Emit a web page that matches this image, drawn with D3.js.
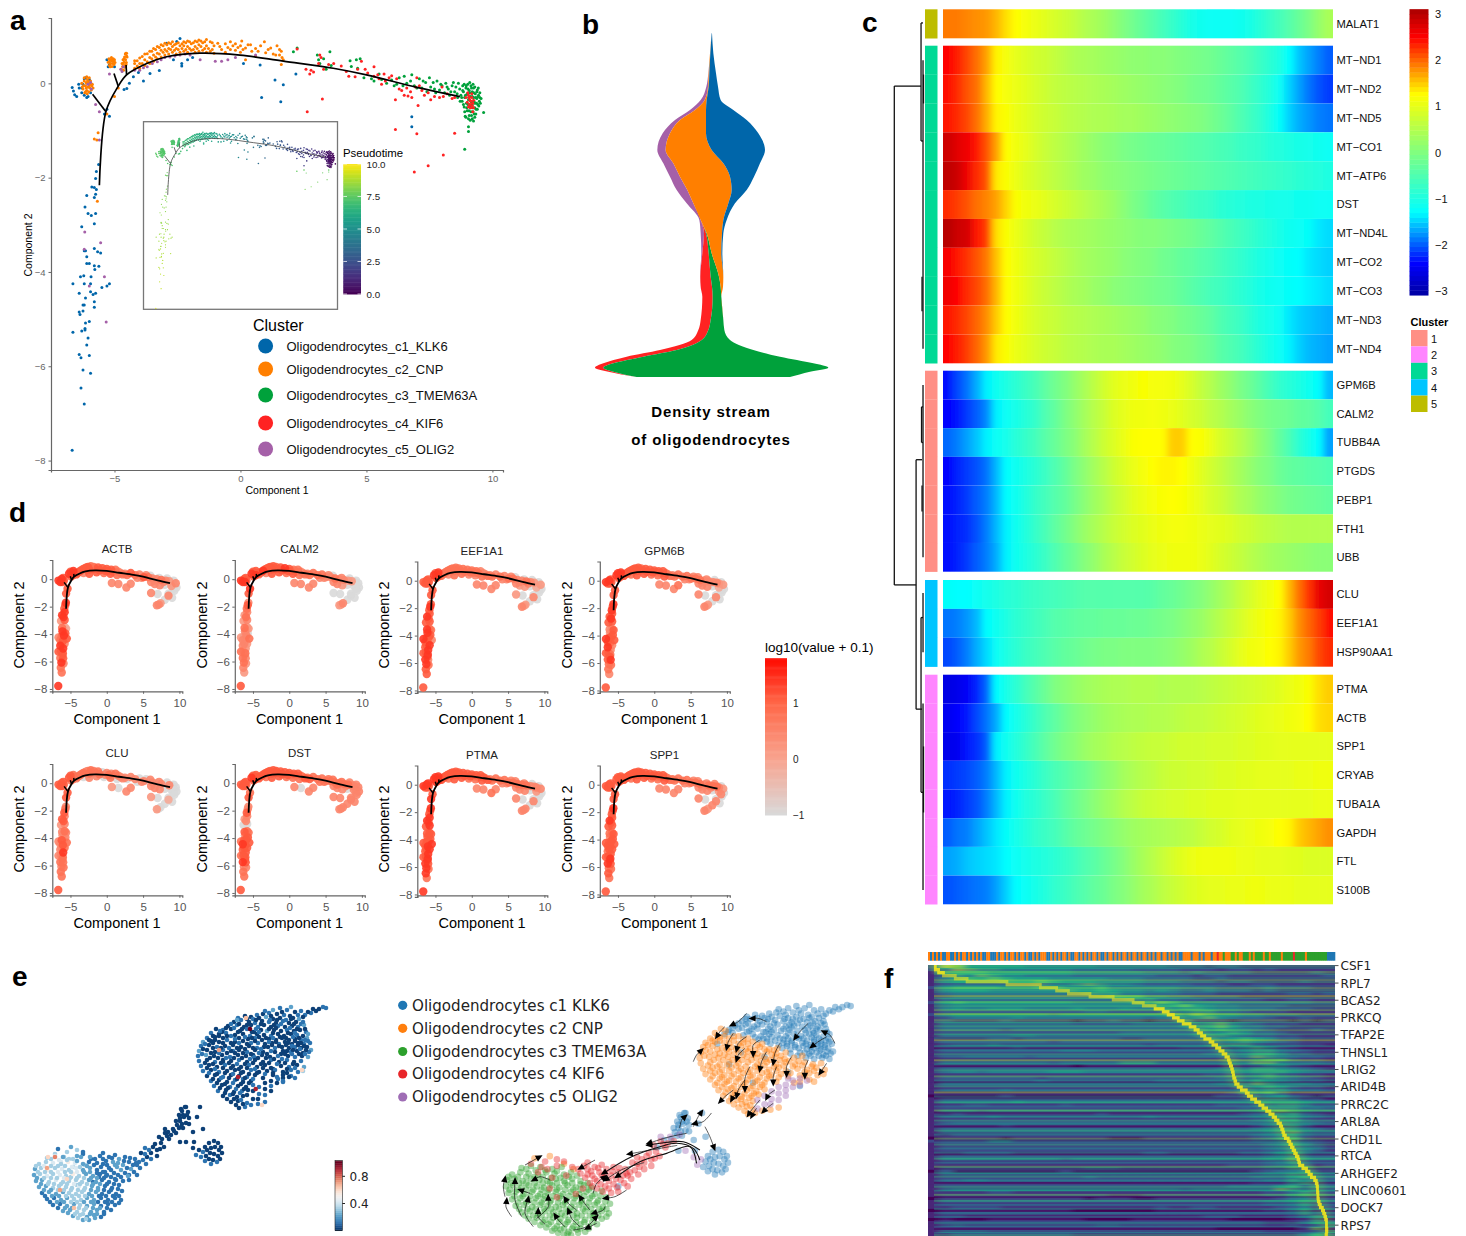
<!DOCTYPE html>
<html lang="en">

<head>
    <meta charset="UTF-8">
    <title>Oligodendrocyte trajectory figure</title>
    <style>
        * {
            margin: 0;
            padding: 0;
        }

        html,
        body {
            overflow: hidden;
            background: #fff;
        }
    </style>
</head>

<body>
    <div id="chart"></div>
    <script src="https://cdn.jsdelivr.net/npm/d3@7/dist/d3.min.js"></script>
    <script>
        // ---------- panel a: cells in component space, one list per cluster
        const clusterNames = ['Oligodendrocytes_c1_KLK6', 'Oligodendrocytes_c2_CNP', 'Oligodendrocytes_c3_TMEM63A', 'Oligodendrocytes_c4_KIF6', 'Oligodendrocytes_c5_OLIG2']
        const clusterColors = ['#0066AA', '#FF7F00', '#00A13B', '#FF2222', '#A560A8']
        const cellsC1 = [[-5.63, -1.72], [-5.72, -1.87], [-5.75, -2.02], [-5.9, -2.2], [-5.8, -2.21], [-5.72, -2.25], [-5.75, -2.35], [-5.8, -2.42], [-6.1, -2.38], [-6.17, -2.62], [-6.05, -2.76], [-5.92, -2.8], [-5.75, -2.76], [-5.8, -2.98], [-6.3, -3.04], [-6.2, -3.55], [-6.15, -3.55], [-5.8, -3.5], [-5.67, -3.57], [-5.55, -3.6], [-6.1, -3.68], [-6.1, -3.82], [-6.0, -3.82], [-5.8, -3.87], [-5.78, -3.95], [-5.62, -3.88], [-6.65, -4.25], [-6.35, -4.1], [-6.22, -4.08], [-6.2, -4.25], [-5.93, -4.1], [-5.95, -4.25], [-6.4, -4.45], [-6.15, -4.55], [-5.95, -4.42], [-5.85, -4.48], [-5.75, -4.45], [-5.5, -4.33], [-5.3, -4.3], [-5.2, -4.25], [-5.8, -4.63], [-5.8, -4.75], [-6.25, -4.7], [-6.2, -4.7], [-6.4, -4.85], [-6.37, -4.9], [-6.25, -4.83], [-6.15, -5.08], [-6.0, -5.05], [-6.65, -5.28], [-6.3, -5.25], [-6.17, -5.2], [-6.17, -5.23], [-6.05, -5.4], [-6.1, -5.55], [-6.4, -5.75], [-6.33, -5.82], [-6.0, -5.77], [-6.25, -6.08], [-5.95, -6.15], [-6.33, -6.46], [-6.2, -6.8], [-6.68, -7.78],
            [-6.68, -0.09], [-6.63, -0.16], [-6.58, -0.24], [-6.5, -0.28], [-6.42, -0.02], [-6.4, -0.1], [-6.3, -0.1], [-6.25, -0.02], [-6.2, 0.1], [-6.15, 0.12], [-6.1, -0.3], [-6.05, -0.28], [-6.2, -0.25], [-6.3, -0.2], [-6.0, 0.08], [-5.95, -0.2], [-5.4, -0.65], [-5.3, -0.55], [-5.2, -0.7],
            [-4.51, -0.11], [-4.62, -0.13], [-4.41, 0], [-4.25, 0.14], [-4.05, 0.23], [-3.85, 0.05], [-3.59, 0.21], [-3.22, 0.27], [-2.66, 0.5], [-2.33, 0.42], [-2.33, 0.37], [-2.1, 0.5], [-1.9, 0.55], [-2.4, 0.95], [-2.53, 0.885], [-2.93, 0.85], [0.12, 0.42], [0.78, 0.39], [1.37, 0.07], [1.7, -0.03], [0.84, -0.3], [1.6, -0.39], [2.2, 0.2], [6.8, -0.71], [6.8, -0.92],
            [-5.3, 0.5], [-5.2, 0.4], [-5.1, 0.48], [-5.0, 0.35], [-5.25, 0.35]]
        const cellsC2 = [[-6.3, 0.0], [-6.25, -0.12], [-6.2, 0.05], [-6.18, -0.2], [-6.15, -0.05], [-6.12, 0.02], [-6.1, -0.15], [-6.08, 0.08], [-6.05, -0.08], [-6.02, -0.18], [-6.0, 0.0], [-5.98, -0.1], [-5.95, 0.05], [-5.92, -0.14], [-5.9, -0.05], [-6.05, 0.04], [-6.12, -0.1], [-5.85, -0.1],
            [-6.22, -0.05], [-6.1, 0.0], [-6, -0.05], [-5.96, -0.02], [-6.15, -0.18], [-6.08, -0.22], [-5.88, -0.02], [-6.28, -0.08], [-6.2, 0.12], [-6.1, 0.14], [-6, 0.12],
            [-5.25, 0.45], [-5.22, 0.52], [-5.2, 0.38], [-5.18, 0.5], [-5.15, 0.42], [-5.12, 0.55], [-5.1, 0.36], [-5.08, 0.47], [-5.05, 0.52], [-5.02, 0.4], [-5, 0.5], [-4.98, 0.44], [-5.2, 0.46], [-5.14, 0.5], [-5.06, 0.42], [-5.03, 0.47], [-5.17, 0.35],
            [-4.72, 0.3], [-4.7, 0.42], [-4.68, 0.36], [-4.66, 0.5], [-4.64, 0.28], [-4.62, 0.45], [-4.6, 0.56], [-4.58, 0.38], [-4.56, 0.5], [-4.55, 0.64], [-4.53, 0.44], [-4.52, 0.58], [-4.66, 0.42], [-4.6, 0.34], [-4.57, 0.62], [-4.62, 0.52], [-4.54, 0.4], [-4.5, 0.56], [-4.52, 0.64],
            [-4.2, 0.32], [-4.2, 0.42], [-4.2, 0.48], [-4, 0.32], [-4, 0.42], [-4, 0.54], [-3.8, 0.38], [-3.8, 0.5], [-3.8, 0.62], [-3.6, 0.42], [-3.6, 0.55], [-3.6, 0.68], [-3.45, 0.47], [-3.45, 0.6], [-3.45, 0.74], [-3.3, 0.52], [-3.3, 0.64], [-3.3, 0.78], [-3.15, 0.56], [-3.15, 0.7], [-3.15, 0.82], [-3, 0.6], [-3, 0.72], [-3, 0.85], [-2.85, 0.62], [-2.85, 0.74], [-2.85, 0.86], [-2.7, 0.66], [-2.7, 0.78], [-2.7, 0.88], [-2.55, 0.62], [-2.55, 0.74], [-2.55, 0.84], [-2.4, 0.66], [-2.4, 0.8], [-2.25, 0.68], [-2.25, 0.8], [-2.25, 0.88], [-2.1, 0.66], [-2.1, 0.78], [-2.1, 0.9], [-1.95, 0.7], [-1.95, 0.84], [-1.8, 0.66], [-1.8, 0.78], [-1.8, 0.9], [-1.65, 0.68], [-1.65, 0.82], [-1.65, 0.92], [-1.5, 0.7], [-1.5, 0.86], [-1.35, 0.66], [-1.35, 0.8], [-1.35, 0.93], [-1.2, 0.68], [-1.2, 0.88], [-1.05, 0.64], [-1.05, 0.8], [-0.9, 0.85], [-0.75, 0.72], [-0.6, 0.66], [-0.6, 0.84], [-0.4, 0.72], [-0.4, 0.88], [-0.2, 0.7], [-0.2, 0.84], [0, 0.66], [0, 0.8], [0.05, 0.9], [0.2, 0.75], [0.2, 0.5], [0.4, 0.82], [0.45, 0.68], [0.6, 0.74], [0.6, 0.58], [0.8, 0.8], [0.95, 0.88], [1, 0.65], [1.2, 0.75], [1.4, 0.6], [1.45, 0.8], [1.62, 0.68], [1.65, 0.55], [1.7, 0.5], [1.62, 0.4],
            [-4.1, 0.37], [-4.1, 0.48], [-3.9, 0.42], [-3.9, 0.57], [-3.7, 0.46], [-3.7, 0.63], [-3.52, 0.52], [-3.52, 0.68], [-3.37, 0.56], [-3.37, 0.72], [-3.22, 0.62], [-3.22, 0.76], [-3.07, 0.66], [-3.07, 0.8], [-2.92, 0.68], [-2.92, 0.82], [-2.77, 0.72], [-2.77, 0.84], [-2.62, 0.7], [-2.62, 0.82], [-2.47, 0.72], [-2.47, 0.86], [-2.32, 0.74], [-2.32, 0.84], [-2.17, 0.72], [-2.17, 0.86], [-2.02, 0.74], [-2.02, 0.88], [-1.87, 0.72], [-1.87, 0.86], [-1.72, 0.74], [-1.72, 0.88], [-1.57, 0.78], [-1.57, 0.9], [-1.42, 0.74], [-1.42, 0.88], [-1.27, 0.74], [-1.12, 0.72], [-1.12, 0.86], [-0.82, 0.78], [-0.5, 0.76], [-0.3, 0.8], [-0.1, 0.76], [0.1, 0.72], [0.3, 0.82], [0.7, 0.68], [1.1, 0.72], [1.3, 0.62], [1.55, 0.72], [1.55, 0.6],
            [-5.65, -1.05], [-5.7, -1.2], [-5.8, -1.18], [-5.68, -2.5], [-5.3, -0.65], [-5.0, -0.28], [-4.85, -0.1]]
        const cellsC3 = [[2.1, 0.67], [2.25, 0.75], [3.05, 0.6], [3.1, 0.5], [3.15, 0.42], [3.3, 0.52], [3.55, 0.67], [3.6, 0.38], [3.4, 0.3], [4.35, 0.48], [4.6, 0.5], [4.75, 0.52], [4.4, 0.36], [4.65, 0.32], [4.9, 0.12], [5.2, 0.1], [5.6, 0.08], [6.0, 0.07], [6.2, -0.02], [6.5, 0.15], [6.6, 0.0], [6.8, 0.18], [6.9, -0.05], [7.1, 0.1], [7.2, -0.1], [7.35, 0.02], [7.5, 0.12], [7.55, -0.08], [7.7, -0.12], [7.8, 0.05], [7.9, -0.14], [8, -0.05], [8.1, -0.2], [8.15, 0.0], [8.25, -0.12], [8.3, -0.25], [8.4, -0.05], [8.5, -0.18], [8.55, -0.08], [8.62, -0.3],
            [5.3, 0.05], [5.5, 0.2], [5.8, 0.0], [6.1, -0.05], [6.3, 0.12], [6.45, -0.05], [6.75, 0.05], [7, -0.1], [7.25, 0.05], [7.4, -0.18], [7.65, 0.02], [7.75, -0.2], [7.95, -0.02], [8.2, -0.08], [8.35, -0.18], [8.45, 0.02], [8.6, -0.22], [8.65, 0.0], [8.72, -0.38],
            [8.7, -0.12], [8.75, -0.25], [8.8, -0.38], [8.82, -0.05], [8.85, -0.18], [8.88, -0.5], [8.9, -0.3], [8.92, -0.7], [8.95, -0.1], [8.97, -0.42], [9, -0.22], [9, -0.58], [9.02, -0.02], [9.05, -0.35], [9.08, -0.15], [9.08, -0.68], [9.1, -0.48], [9.12, -0.28], [9.15, -0.05], [9.15, -0.6], [9.18, -0.4], [9.2, -0.18], [9.2, -0.75], [9.22, -0.52], [9.25, -0.3], [9.25, -0.1], [9.28, -0.65], [9.3, -0.42], [9.32, -0.22], [9.35, -0.55], [9.38, -0.32], [9.4, -0.14], [9.42, -0.45], [9.45, -0.25], [9.48, -0.38], [9.5, -0.3], [9.65, -0.62], [9.05, -0.92], [9.05, -1.02], [8.9, -1.4],
            [8.78, -0.3], [8.82, -0.15], [8.85, -0.45], [8.88, -0.02], [8.9, -0.6], [8.93, -0.25], [8.96, -0.05], [8.98, -0.52], [9.03, -0.12], [9.03, -0.45], [9.06, -0.3], [9.07, -0.58], [9.1, 0.02], [9.1, -0.2], [9.13, -0.52], [9.14, -0.38], [9.17, -0.1], [9.17, -0.68], [9.2, -0.28], [9.2, -0.46], [9.23, -0.02], [9.23, -0.6], [9.26, -0.2], [9.27, -0.38], [9.3, -0.52], [9.3, -0.08], [9.33, -0.3], [9.34, -0.65], [9.37, -0.42], [9.38, -0.18], [9.4, -0.55], [9.42, -0.28], [9.44, -0.1], [9.46, -0.48], [9.5, -0.2], [9.52, -0.42], [9.55, -0.32], [9.12, -0.78], [9.25, -0.8], [9.3, -0.72], [9.05, -0.75], [8.95, -0.72]]
        const cellsC4 = [[2.25, 0.73], [2.6, 0.3], [2.75, 0.2], [2.8, 0.28], [2.9, 0.24], [3.1, 0.42], [3.15, 0.6], [3.2, 0.55], [3.3, 0.3], [3.5, 0.4], [3.7, 0.42], [4.0, 0.37], [4.2, 0.25], [4.55, 0.14], [4.65, 0.3], [4.8, 0.47], [5.05, 0.22], [5.3, 0.35], [5.3, 0.15], [5.5, 0.1], [5.7, 0.2], [5.75, 0.05], [6.0, 0.16], [6.4, -0.15], [6.5, -0.25], [6.6, -0.1], [6.65, -0.27], [6.8, -0.3], [7, 0.12], [7.1, -0.05], [7.2, -0.15], [7.45, -0.2], [7.55, -0.35], [8.0, -0.08], [8.05, -0.28], [8.4, -0.32], [6.15, -0.35], [7.05, -0.47], [2.65, -0.6], [3.25, -0.33], [8.95, -0.3], [9, -0.4], [9.05, -0.25], [9.1, -0.35], [9.12, -0.45], [9.18, -0.3], [9.22, -0.42], [9.25, -0.52], [6.15, -0.98], [7.0, -1.07], [8.5, -1.06], [8.05, -1.52], [7.45, -1.75], [6.9, -1.88],
            [4.3, 0.15], [4.95, 0.3], [5.6, -0.02], [6.2, 0.1], [6.3, -0.12], [6.75, -0.18], [6.95, -0.08], [7.3, -0.25], [7.7, -0.28], [7.9, -0.3], [8.2, -0.22], [8.5, -0.3], [5.9, 0.12], [5.45, 0.18],
            [9.02, -0.2], [9.08, -0.3], [9.15, -0.38], [9.2, -0.48], [9.14, -0.52], [9.08, -0.45], [9.25, -0.36], [9.18, -0.22], [9.05, -0.5], [9.22, -0.6]]
        const cellsC5 = [[-6.18, -3.15], [-5.55, -3.38], [-6.2, -3.52], [-5.4, -4.1], [-6, -4.3], [-5.33, -5.06], [-5.75, -0.45], [-5.6, -0.6], [-5.6, -1.2], [-6.05, -0.02], [-5.92, -0.12], [-5.95, 0.02], [-5.2, 0.2], [-4.7, 0.25], [-4.65, 0.35], [-4.75, 0.3], [-4.2, 0.28], [-4.0, 0.28], [-3.85, 0.33], [-3.7, 0.35], [-3.5, 0.42], [-3.3, 0.46], [-3.15, 0.5], [-3, 0.55], [-2.8, 0.56], [-2.6, 0.58], [-2.4, 0.6], [-2.2, 0.62], [-2, 0.6], [-1.6, 0.5], [-1.0, 0.47], [-0.75, 0.47], [-0.5, 0.5], [-0.2, 0.55], [0.6, 0.6]]

        const trajectoryMain = [[-5.6, -2.16], [-5.34, -0.6], [-4.85, -0.06], [-4.52, 0.18], [-3.72, 0.42], [-2.93, 0.565], [-1.61, 0.64], [-0.02, 0.6], [1.7, 0.47], [3.68, 0.32], [5.0, 0.18], [7.0, -0.085], [8.71, -0.28]]
        const trajectoryBranches = [[[-5.34, -0.6], [-5.87, -0.23]], [[-4.85, -0.06], [-5.02, 0.21]], [[-4.52, 0.18], [-4.54, 0.39]]]

        // pseudotime read along the tree: by component 1 on the arc, by component 2 on the long tail
        const pseudoArcX = [-6.7, -5.9, -5, -4.5, -3, -1, 1, 3, 5, 7, 8.5, 9.6]
        const pseudoArcT = [7.4, 7.3, 7.2, 7, 6.3, 5.6, 4.6, 3.4, 2.6, 1.8, 0.9, 0.1]
        const pseudoTailY = [-8, -5, -2, -1]
        const pseudoTailT = [9.4, 8.7, 8.0, 7.6]
        const pseudoTicks = [0, 2.5, 5, 7.5, 10]

        // ---------- panel b: density stream, widths per pseudotime level
        const streamLevels = [40, 100, 160, 200, 240, 270, 300, 340, 390, 430, 470, 510, 550, 600, 640, 700, 770, 800, 830, 900, 930, 960, 990, 1010, 1030, 1043, 1055, 1071]
        const streamLeft = [395, 390, 385, 379, 362, 330, 285, 248, 232, 250, 270, 290, 320, 358, 362, 364, 360, 362, 367, 362, 355, 335, 240, 140, 70, 45, 85, 170]
        const streamC5 = [0, 0, 1, 5, 12, 15, 15, 22, 25, 30, 30, 32, 20, 4, 10, 3, 1, 0, 0, 0, 0, 0, 0, 0, 0, 0, 0, 0]
        const streamC4 = [0, 0, 0, 0, 0, 0, 0, 0, 0, 0, 0, 0, 0, 0, 6, 19, 31, 34, 31, 30, 30, 30, 50, 50, 30, 25, 15, 0]
        const streamC3 = [0, 0, 0, 0, 0, 0, 0, 0, 0, 0, 0, 0, 0, 0, 2, 9, 25, 26, 26, 38, 48, 85, 230, 410, 600, 675, 590, 460]
        const streamC2 = [0, 1, 2, 2, 6, 33, 78, 108, 138, 150, 150, 133, 105, 68, 46, 29, 13, 7, 0, 0, 0, 0, 0, 0, 0, 0, 0, 0]
        const streamC1 = [1, 9, 20, 28, 42, 82, 122, 157, 160, 110, 72, 45, 20, 10, 4, 3, 0, 0, 0, 0, 0, 0, 0, 0, 0, 0, 0, 0]

        // ---------- panel c: smoothed expression, one row per gene
        const geneNames = ['MALAT1', 'MT−ND1', 'MT−ND2', 'MT−ND5', 'MT−CO1', 'MT−ATP6', 'DST', 'MT−ND4L', 'MT−CO2', 'MT−CO3', 'MT−ND3', 'MT−ND4', 'GPM6B', 'CALM2', 'TUBB4A', 'PTGDS', 'PEBP1', 'FTH1', 'UBB', 'CLU', 'EEF1A1', 'HSP90AA1', 'PTMA', 'ACTB', 'SPP1', 'CRYAB', 'TUBA1A', 'GAPDH', 'FTL', 'S100B']
        const geneCluster = [5, 3, 3, 3, 3, 3, 3, 3, 3, 3, 3, 3, 1, 1, 1, 1, 1, 1, 1, 4, 4, 4, 2, 2, 2, 2, 2, 2, 2, 2]
        const heatClusterColors = { 1: '#FF8F85', 2: '#FF85FF', 3: '#00D995', 4: '#00C5FF', 5: '#BDBD00' }
        const geneValues = [
            [1.9, 1.9, 1.85, 1.8, 1.75, 1.6, 1.4, 1.25, 1.15, 1.05, .95, .85, .75, .65, .5, .4, .3, .15, 0, -.15, -.3, -.45, -.6, -.75, -.9, -1.05, -1.15, -1.2, -1.2, -1.2, -1.15, -1.05, -.9, -.75, -.6, -.45, -.25, -.05, .2, .4],
            [2.5, 2.35, 2.15, 1.95, 1.7, 1.3, 1.15, 1.0, .9, .8, .75, .65, .55, .45, .4, .35, .3, .25, .2, .15, .15, .1, .1, .05, 0, -.05, -.1, -.15, -.25, -.35, -.45, -.55, -.7, -.85, -1, -1.3, -1.55, -1.7, -1.85, -2],
            [2.45, 2.3, 2.1, 1.95, 1.6, 1.25, 1.15, 1.05, .95, .85, .75, .65, .6, .55, .5, .45, .4, .35, .3, .25, .2, .15, .1, .05, 0, -.1, -.15, -.2, -.3, -.4, -.5, -.65, -.8, -.95, -1.2, -1.5, -1.7, -1.9, -2.05, -2.15],
            [2.4, 2.3, 2.15, 1.95, 1.65, 1.3, 1.2, 1.05, .95, .85, .75, .7, .6, .55, .5, .45, .45, .4, .35, .35, .3, .25, .2, .15, .1, .05, 0, -.1, -.2, -.35, -.5, -.65, -.8, -1, -1.25, -1.5, -1.65, -1.75, -1.85, -1.9],
            [2.85, 2.7, 2.6, 2.4, 2.1, 1.7, 1.25, 1.1, 1, .85, .7, .6, .5, .4, .3, .2, .1, .05, -.05, -.1, -.15, -.2, -.25, -.3, -.35, -.4, -.45, -.5, -.55, -.6, -.7, -.75, -.8, -.9, -.95, -1, -1.05, -1.1, -1.15, -1.2],
            [2.95, 2.85, 2.6, 2.3, 2.1, 1.35, 1.2, 1.05, .9, .8, .7, .6, .5, .4, .3, .25, .15, .1, .05, 0, -.05, -.1, -.15, -.2, -.25, -.3, -.35, -.4, -.45, -.5, -.55, -.6, -.65, -.7, -.75, -.8, -.85, -.9, -.95, -1],
            [2.3, 2.2, 2.1, 1.95, 1.85, 1.7, 1.45, 1.2, 1.1, 1.05, .95, .85, .75, .65, .55, .45, .35, .25, .1, -.05, -.15, -.3, -.4, -.5, -.55, -.65, -.7, -.75, -.85, -.9, -.95, -1, -1, -1.05, -1.1, -1.1, -1.15, -1.15, -1.2, -1.2],
            [3, 2.85, 2.8, 2.4, 2.2, 1.4, 1.2, 1.05, .9, .75, .65, .55, .45, .4, .35, .3, .25, .2, .15, .1, .05, .05, 0, -.05, -.1, -.15, -.25, -.35, -.45, -.55, -.65, -.75, -.85, -.95, -1.05, -1.15, -1.2, -1.25, -1.4, -1.45],
            [2.55, 2.4, 2.25, 2.1, 1.9, 1.55, 1.25, 1.1, .95, .85, .75, .65, .55, .45, .35, .3, .25, .2, .1, .05, 0, -.05, -.15, -.2, -.3, -.35, -.45, -.5, -.6, -.7, -.8, -.9, -1, -1.1, -1.2, -1.25, -1.3, -1.4, -1.45, -1.5],
            [2.6, 2.5, 2.3, 2.15, 1.95, 1.6, 1.25, 1.1, .95, .8, .7, .6, .5, .4, .35, .25, .2, .1, .05, 0, -.05, -.1, -.15, -.2, -.3, -.4, -.5, -.6, -.65, -.75, -.85, -.95, -1.05, -1.15, -1.2, -1.25, -1.3, -1.35, -1.4, -1.45],
            [2.4, 2.3, 2.15, 2, 1.8, 1.5, 1.25, 1.1, .95, .85, .75, .7, .6, .55, .5, .45, .4, .35, .3, .25, .2, .1, .05, 0, -.1, -.15, -.25, -.35, -.5, -.6, -.7, -.85, -1, -1.1, -1.2, -1.4, -1.5, -1.55, -1.6, -1.65],
            [2.5, 2.35, 2.2, 2, 1.75, 1.35, 1.2, 1.05, .95, .85, .75, .7, .6, .55, .5, .45, .4, .4, .35, .3, .25, .2, .15, .05, 0, -.05, -.15, -.25, -.4, -.5, -.6, -.75, -.9, -1.05, -1.2, -1.35, -1.5, -1.6, -1.65, -1.7],
            [-2.35, -2.1, -1.9, -1.65, -1.35, -1.15, -1, -.85, -.7, -.55, -.35, -.15, 0, .2, .4, .6, .8, .95, 1.05, 1.1, 1.2, 1.15, 1.15, 1.1, 1, .85, .65, .5, .3, .15, -.05, -.2, -.4, -.6, -.8, -.9, -1, -1.15, -1.3, -1.6],
            [-2.4, -2.3, -2.15, -2, -1.8, -1.35, -1.2, -1.05, -.9, -.75, -.5, -.3, -.05, .15, .35, .55, .7, .9, 1, 1.1, 1.1, 1.15, 1.1, 1.05, .95, .85, .75, .6, .5, .35, .25, .1, 0, -.1, -.15, -.2, -.3, -.35, -.45, -.6],
            [-1.95, -1.85, -1.7, -1.55, -1.35, -1.2, -1.1, -.9, -.75, -.6, -.4, -.25, -.05, .1, .35, .55, .75, .9, 1.05, 1.2, 1.25, 1.25, 1.25, 1.5, 1.5, 1.25, 1.2, 1.05, .85, .7, .55, .35, .15, -.05, -.3, -.55, -.85, -1.05, -1.3, -1.7],
            [-2.4, -2.25, -2.15, -2.05, -1.9, -1.6, -1.3, -1.15, -1, -.85, -.7, -.5, -.3, -.05, .15, .35, .55, .75, .9, 1.05, 1.15, 1.25, 1.3, 1.3, 1.25, 1.1, .95, .8, .65, .5, .35, .2, .05, -.05, -.2, -.3, -.35, -.4, -.45, -.5],
            [-2.35, -2.25, -2.15, -2, -1.85, -1.6, -1.3, -1.15, -.95, -.75, -.6, -.45, -.3, -.1, .1, .3, .45, .65, .8, .95, 1.05, 1.15, 1.2, 1.25, 1.2, 1.1, 1, .85, .75, .6, .45, .35, .2, .1, 0, -.1, -.15, -.2, -.25, -.3],
            [-2.35, -2.25, -2.2, -2.05, -1.85, -1.6, -1.35, -1.15, -.95, -.75, -.55, -.35, -.15, .05, .25, .4, .55, .7, .8, .9, .95, 1.05, 1.1, 1.15, 1.15, 1.1, 1.05, 1, .95, .9, .8, .75, .65, .6, .55, .5, .5, .5, .5, .5],
            [-2.35, -2.25, -2.15, -2, -1.85, -1.65, -1.35, -1.15, -1, -.85, -.7, -.5, -.3, -.15, .05, .2, .4, .55, .7, .8, .9, 1, 1.05, 1.1, 1.1, 1.1, 1.05, .95, .85, .75, .65, .55, .45, .35, .3, .25, .2, .15, .1, .1],
            [-1.25, -1.3, -1.3, -1.2, -1.1, -1, -.9, -.85, -.75, -.7, -.65, -.6, -.55, -.5, -.45, -.45, -.45, -.45, -.45, -.45, -.45, -.4, -.3, -.25, -.15, -.05, .05, .2, .35, .5, .7, .85, 1, 1.1, 1.25, 1.6, 1.95, 2.25, 2.65, 2.8],
            [-1.9, -1.85, -1.75, -1.6, -1.3, -1.15, -1, -.85, -.75, -.65, -.55, -.45, -.4, -.35, -.3, -.3, -.25, -.25, -.25, -.2, -.2, -.15, -.1, -.05, .05, .15, .25, .4, .55, .7, .85, 1, 1.1, 1.2, 1.3, 1.5, 1.8, 2, 2.2, 2.45],
            [-2.1, -2, -1.85, -1.65, -1.45, -1.2, -1.0, -.85, -.7, -.6, -.5, -.4, -.3, -.25, -.15, -.1, -.05, -.05, 0, 0, 0, 0, .05, .1, .2, .3, .45, .55, .7, .85, 1, 1.1, 1.15, 1.25, 1.3, 1.5, 1.75, 1.9, 2.15, 2.3],
            [-2.6, -2.55, -2.45, -2.25, -1.95, -1.3, -1.05, -.85, -.6, -.4, -.2, 0, .1, .2, .3, .35, .4, .45, .45, .5, .5, .5, .45, .5, .5, .5, .55, .6, .65, .7, .75, .8, .85, .9, .95, 1.05, 1.1, 1.2, 1.4, 1.5],
            [-2.5, -2.4, -2.3, -2.1, -1.9, -1.65, -1.3, -1.1, -.9, -.7, -.5, -.35, -.15, 0, .1, .2, .3, .35, .4, .45, .45, .5, .5, .55, .6, .65, .65, .7, .75, .8, .85, .9, .95, 1, 1.05, 1.1, 1.15, 1.25, 1.4, 1.45],
            [-2.55, -2.5, -2.3, -2.2, -2, -1.35, -1.15, -.95, -.75, -.55, -.35, -.15, 0, .1, .25, .35, .4, .5, .55, .6, .65, .7, .7, .75, .8, .8, .8, .85, .85, .85, .9, .9, .95, .95, 1, 1, 1, 1, 1, 1],
            [-2.2, -2.15, -2.1, -2, -1.85, -1.6, -1.35, -1.15, -1, -.85, -.7, -.55, -.45, -.3, -.2, -.05, .1, .2, .35, .45, .55, .6, .7, .75, .75, .8, .8, .85, .9, .9, .95, .95, 1, 1, 1, 1, 1.05, 1.05, 1.1, 1.1],
            [-2.3, -2.25, -2.15, -2.05, -1.85, -1.6, -1.35, -1.15, -.95, -.85, -.7, -.55, -.35, -.2, -.05, .1, .25, .35, .5, .6, .7, .75, .8, .85, .85, .9, .9, .95, .95, .95, 1, 1, 1, 1, 1, 1, 1, 1, 1.05, 1.05],
            [-2, -1.9, -1.85, -1.7, -1.55, -1.4, -1.25, -1.1, -.95, -.8, -.7, -.6, -.45, -.3, -.2, -.1, 0, .1, .2, .3, .35, .4, .45, .5, .55, .6, .7, .8, .85, .95, 1, 1.05, 1.1, 1.15, 1.25, 1.3, 1.5, 1.6, 1.7, 1.8],
            [-1.7, -1.65, -1.55, -1.5, -1.45, -1.4, -1.3, -1.2, -1.1, -1, -.95, -.85, -.75, -.65, -.5, -.4, -.25, -.1, .05, .25, .4, .55, .7, .85, .95, 1.05, 1.1, 1.1, 1.1, 1.1, 1.05, 1.05, 1, 1, 1, .95, .95, .9, .9, .9],
            [-2.05, -2, -1.95, -1.9, -1.85, -1.7, -1.5, -1.3, -1.2, -1.05, -.95, -.8, -.7, -.55, -.45, -.3, -.2, -.05, .05, .2, .35, .45, .6, .7, .8, .9, .95, 1, 1, 1.05, 1.05, 1.1, 1.1, 1.05, 1.05, 1.05, 1, 1, 1, 1]
        ]
        const geneColorStops = [-3.1, -2.4, -1.3, 0, 1.25, 2.5, 3.1]
        const geneColors = ['#0000a0', '#0000ff', '#00ffff', '#80ff80', '#ffff00', '#ff0000', '#aa0000']
        const geneTicks = [3, 2, 1, 0, -1, -2, -3]
        // dendrogram in merge height / gene row units
        const dendroStems = [[31, 2.4, 19.17], [9, 15.1, 23.2], [4, 0.47, 4.3], [2, 1.5, 11.5], [3.5, 13.26, 14.5], [2, 12.5, 18.5], [3, 16, 16.9], [2, 19.45, 21.5], [4, 20.3, 26.1], [2, 23, 29.5], [1.5, 2, 3], [3, 9, 10.2], [1.5, 24.5, 26.8]]
        const dendroArms = [[31, 4, 2.4], [31, 9, 19.17], [9, 3, 15.1], [9, 3, 23.2], [4, 2, 0.47], [4, 2, 4.3], [4, 2, 20.3], [4, 2, 26.1], [3.5, 2, 13.26], [3.5, 2, 14.5]]

        // ---------- panel d: gene expression on the tree
        const dotCells = [[-6.68, -7.78], [-6.2, -6.8], [-6.33, -6.46], [-6.25, -6.08], [-5.95, -6.15], [-6.4, -5.75], [-6.0, -5.77], [-6.1, -5.55], [-6.05, -5.4], [-6.65, -5.28], [-6.3, -5.25], [-6.0, -5.05], [-6.4, -4.85], [-6.2, -4.7], [-5.8, -4.7], [-6.4, -4.45], [-6.05, -4.5], [-5.5, -4.33], [-6.65, -4.25], [-6.2, -4.15], [-5.9, -4.1], [-5.7, -3.95], [-6.1, -3.8], [-5.6, -3.6], [-6.15, -3.55], [-5.8, -3.5], [-6.3, -3.04], [-5.8, -2.98], [-5.95, -2.76], [-6.15, -2.62], [-5.8, -2.4], [-5.85, -2.15], [-5.72, -1.9], [-5.63, -1.72],
            [-5.6, -1.05], [-5.4, -0.7], [-6.65, -0.1], [-6.4, -0.2], [-6.2, 0.02], [-6.1, -0.2], [-5.9, -0.1], [-6.0, 0.1],
            [-5.2, 0.4], [-5.0, 0.55], [-4.6, 0.3], [-4.6, 0.6], [-4.9, 0.2],
            [-4.2, 0.35], [-3.8, 0.55], [-3.4, 0.7], [-3, 0.8], [-2.6, 0.9], [-2.2, 0.95], [-1.8, 0.9], [-1.2, 0.85], [-0.6, 0.8], [0, 0.75], [0.6, 0.7], [1.2, 0.7], [1.6, 0.55], [-3.2, 0.45], [-2.4, 0.4], [-1.4, 0.5], [-0.4, 0.45], [0.5, 0.4], [1.4, 0.3], [2.2, 0.35], [2.8, 0.3], [3.3, 0.45], [3.9, 0.3], [4.5, 0.35], [5.1, 0.15], [5.7, 0.15], [6.3, 0.05], [6.9, 0], [7.5, -0.05], [8.1, -0.1], [8.6, -0.15],
            [0.7, -0.28], [1.6, -0.35], [2.7, -0.6], [3.3, -0.33], [6.1, -0.2], [6.6, -0.35], [7.3, -0.45], [8.0, -0.4], [6.9, -1.9], [7.15, -1.85], [7.4, -1.75], [8.0, -1.5], [8.5, -1.2], [9.0, -1.35], [6.1, -1.0], [7.0, -1.08], [8.5, -1.05],
            [8.9, -0.2], [9.2, -0.1], [9.5, -0.3], [9.6, -0.6], [9.2, -0.7], [8.9, -0.5], [9.1, -0.4], [9.3, -0.85],
            [-4.4, 0.45], [-4, 0.45], [-3.6, 0.62], [-3.2, 0.75], [-2.8, 0.85], [-2.4, 0.7], [-2, 0.75], [-1.6, 0.75], [-1, 0.65], [-0.2, 0.62], [0.3, 0.6], [0.9, 0.55], [1.9, 0.45], [2.5, 0.4], [4.2, 0.1], [4.8, 0.1], [5.4, 0.3], [6, 0.25], [6.6, -0.1], [7.2, 0.1], [7.8, -0.2], [8.3, 0.05]]
        const exprGenes = ['ACTB', 'CALM2', 'EEF1A1', 'GPM6B', 'CLU', 'DST', 'PTMA', 'SPP1']
        const exprACTB = ['8668567677688556775687836347888778', '77888777', '87787', '7766766777765577676667657655654', '55555550554050500', '00500400', '7777776677665555505050'].join('')
        const exprCALM2 = ['7456465366445545464350546445645675', '78886877', '87877', '6766776787665577676666665565544', '55555540445000000', '00000000', '7787776677665555500500'].join('')
        const exprEEF1A1 = ['7778685787787687658677868677787787', '77777777', '87787', '6665566666655566556665656655654', '55555440544050400', '00400300', '6666665566665555505050'].join('')
        const exprGPM6B = ['7566678767658557678767475477877878', '77878777', '88787', '7766776777776677667666666665555', '55565550544050500', '40400300', '7777776677665555555500'].join('')
        const exprCLU = ['7665666565585564765705455645775765', '77776767', '77666', '5665565605565055060505505050505', '40555550400030400', '00000000', '6666560565605505050500'].join('')
        const exprDST = ['7665587776777778776777467600545755', '76777777', '87777', '7776677777776677666776665666665', '50555550555555555', '55554535', '7777777777666666666655'].join('')
        const exprPTMA = ['8688687787787787887777777778788778', '87878778', '88888', '7776777777777677667766666666655', '55655550555050500', '50500400', '7777777777665555555500'].join('')
        const exprSPP1 = ['7676687787776777777577576677787778', '77777777', '77777', '7776777777776677667666666665666', '55555550544550500', '50405400', '7777776677665655555555'].join('')
        const exprStrings = [exprACTB, exprCALM2, exprEEF1A1, exprGPM6B, exprCLU, exprDST, exprPTMA, exprSPP1]
        const exprStops = [-1, 0, 1, 1.79]
        const exprColors = ['#d9d9d9', '#f8a38e', '#ff6647', '#ff0a00']
        const exprTicks = [-1, 0, 1]

        // ---------- panels e/f: embedding, [u, v, score digit], one list per cluster
        const umapC1 = [[293, 1, 1], [290, 0, 1], [286, 2, 0], [283, 4, 0], [280, 2, 0], [278, 6, 1], [275, 5, 0], [272, 8, 1], [270, 10, 0],
            [240, 3, 2], [247, 1, 1], [254, 3, 1], [258, 0, 2], [262, 5, 0], [268, 4, 1], [236, 6, 1], [230, 7, 0], [244, 7, 0], [251, 8, 1], [257, 9, 0], [224, 8, 1], [218, 10, 0],
            [205, 11, 1], [212, 9, 0], [220, 12, 1], [226, 11, 0], [233, 10, 2], [240, 12, 0], [247, 11, 0], [253, 13, 1], [260, 11, 0], [266, 12, 2],
            [201, 15, 0], [208, 13, 1], [216, 15, 0], [222, 16, 1], [229, 14, 0], [236, 15, 1], [243, 16, 0], [250, 14, 1], [256, 16, 0], [263, 15, 0], [268, 17, 1],
            [195, 19, 0], [204, 18, 1], [211, 20, 0], [218, 18, 0], [225, 20, 1], [231, 18, 0], [238, 20, 0], [245, 19, 1], [252, 20, 0], [259, 19, 0], [265, 20, 1], [271, 18, 2],
            [190, 23, 1], [198, 22, 0], [207, 24, 0], [214, 22, 1], [221, 25, 0], [228, 23, 0], [234, 24, 2], [241, 23, 0], [248, 24, 0], [254, 23, 1], [261, 24, 0], [267, 23, 0], [273, 25, 1],
            [186, 27, 0], [193, 26, 1], [202, 28, 0], [210, 27, 0], [217, 29, 1], [224, 27, 0], [231, 28, 0], [238, 29, 1], [245, 27, 0], [251, 29, 0], [258, 27, 0], [264, 28, 1], [270, 29, 0], [275, 27, 2],
            [215, 32, 0], [222, 31, 1], [229, 33, 0], [236, 32, 0], [243, 33, 0], [249, 31, 0], [256, 33, 0], [262, 32, 0], [268, 33, 1], [274, 31, 2],
            [225, 36, 1], [232, 37, 0], [239, 36, 0], [246, 37, 1], [252, 35, 0], [259, 37, 0], [265, 36, 0], [271, 37, 1], [277, 36, 1],
            [235, 40, 0], [242, 41, 1], [249, 40, 0], [256, 41, 0], [262, 40, 1], [268, 41, 0], [274, 40, 0], [278, 43, 2], [242, 45, 0], [250, 44, 0], [258, 45, 1], [264, 44, 0], [270, 46, 0], [276, 45, 1], [255, 49, 0], [262, 50, 1], [269, 49, 0], [275, 50, 2], [180, 36, 0], [200, 44, 1], [220, 48, 0], [190, 55, 0], [240, 62, 0], [210, 72, 1], [250, 75, 1],
            [232, 4, 1], [249, 5, 0], [265, 8, 1], [238, 9, 0], [214, 12, 0], [223, 13, 0], [237, 13, 1], [244, 13, 0], [258, 12, 0], [204, 13, 2], [198, 17, 1], [206, 17, 0], [214, 18, 0], [228, 17, 0], [241, 18, 0], [248, 17, 1], [261, 17, 0], [270, 15, 1], [193, 21, 0], [201, 21, 1], [209, 22, 0], [223, 22, 1], [236, 22, 0], [243, 21, 0], [257, 21, 1], [264, 22, 0], [189, 25, 0], [205, 25, 0], [219, 25, 0], [226, 25, 1], [240, 26, 0], [255, 26, 0], [262, 26, 1], [272, 22, 0], [212, 30, 1], [219, 31, 0], [226, 30, 0], [233, 31, 0], [240, 31, 1], [247, 30, 0], [253, 31, 0], [260, 30, 1], [266, 31, 0], [272, 33, 1], [222, 34, 0], [236, 35, 1], [243, 35, 0], [255, 36, 0], [262, 34, 0], [268, 36, 0], [275, 34, 1], [239, 38, 0], [246, 39, 0], [253, 38, 0], [259, 39, 1], [265, 38, 0], [271, 39, 0], [260, 43, 0], [267, 42, 1], [273, 43, 0], [254, 44, 0], [248, 47, 0], [259, 47, 1], [266, 47, 0], [272, 47, 1],
            [152, 100, 0], [149, 104, 0], [155, 105, 0], [146, 108, 0], [151, 110, 0], [156, 111, 0], [147, 114, 0], [153, 116, 0], [144, 118, 0], [150, 121, 0], [167, 100, 0], [164, 110, 0], [170, 122, 0], [160, 125, 0], [161, 135, 0], [147, 135, 0], [148, 102, 0], [153, 100, 0], [150, 108, 0], [147, 111, 0], [154, 108, 0], [143, 114, 0], [149, 117, 0], [156, 117, 0], [146, 121, 0], [141, 124, 0], [135, 125, 0], [129, 132, 0],
            [172, 140, 0], [176, 136, 0], [181, 134, 0], [185, 136, 0], [188, 140, 0], [170, 145, 1], [174, 143, 0], [178, 141, 0], [182, 140, 0], [186, 143, 0], [189, 146, 0], [168, 150, 1], [173, 149, 0], [177, 146, 0], [181, 147, 0], [185, 149, 0], [187, 152, 0], [172, 154, 1], [176, 152, 0], [180, 153, 0], [184, 155, 1], [178, 157, 1], [96, 168, 1]]
        const umapC2 = [[183, 22, 0], [178, 26, 1], [174, 31, 1], [182, 30, 0], [190, 31, 0], [198, 29, 1], [206, 31, 0],
            [170, 35, 2], [178, 34, 0], [186, 35, 0], [194, 33, 1], [202, 35, 0], [210, 34, 0], [218, 36, 1], [168, 39, 1], [176, 38, 0], [184, 40, 1], [192, 39, 0], [200, 38, 0], [208, 40, 0], [216, 39, 0], [224, 41, 1], [231, 40, 0],
            [166, 44, 2], [174, 43, 0], [182, 45, 0], [190, 43, 1], [198, 44, 0], [206, 43, 0], [214, 45, 1], [222, 43, 0], [230, 45, 0], [238, 44, 1],
            [165, 49, 1], [173, 48, 2], [181, 49, 0], [189, 48, 0], [197, 50, 1], [205, 48, 0], [213, 49, 0], [221, 50, 1], [229, 48, 0], [237, 50, 0], [245, 49, 1], [252, 47, 0],
            [166, 54, 1], [174, 53, 0], [182, 55, 1], [190, 53, 0], [198, 54, 0], [206, 53, 1], [214, 55, 0], [222, 53, 0], [230, 55, 0], [238, 53, 1], [246, 55, 0], [254, 53, 1], [261, 55, 0], [268, 54, 1],
            [168, 59, 1], [176, 58, 0], [184, 60, 0], [192, 58, 1], [200, 59, 0], [208, 60, 0], [216, 58, 1], [224, 60, 0], [232, 58, 0], [248, 59, 0], [256, 60, 1], [264, 58, 0], [271, 60, 2],
            [170, 64, 1], [178, 63, 0], [186, 65, 1], [194, 64, 0], [202, 63, 0], [210, 65, 0], [218, 63, 1], [226, 65, 0], [234, 64, 0], [242, 63, 1], [250, 65, 0], [258, 63, 1], [265, 65, 1], [270, 64, 3],
            [174, 69, 0], [182, 68, 0], [190, 70, 1], [198, 68, 0], [206, 69, 0], [214, 70, 1], [222, 68, 0], [258, 69, 1], [262, 71, 1],
            [178, 74, 1], [186, 73, 0], [194, 75, 0], [202, 73, 1], [210, 75, 0], [218, 74, 0], [245, 72, 1], [181, 79, 1], [189, 78, 0], [197, 80, 1], [205, 79, 0], [213, 80, 0], [220, 78, 1], [185, 84, 1], [193, 83, 0], [201, 85, 0], [209, 84, 1], [215, 83, 0], [190, 89, 0], [197, 88, 1], [204, 90, 0], [210, 89, 0], [198, 95, 0], [205, 94, 0], [206, 101, 0], [212, 100, 1], [225, 97, 1], [232, 95, 1],
            [187, 24, 1], [180, 29, 0], [186, 29, 0], [194, 29, 0], [202, 32, 1], [176, 33, 0], [182, 33, 0], [190, 36, 0], [198, 36, 0], [206, 36, 1], [214, 37, 0], [172, 37, 1], [180, 41, 0], [188, 41, 0], [196, 41, 1], [204, 41, 0], [212, 42, 0], [220, 41, 0], [228, 42, 1], [170, 42, 0], [178, 46, 0], [186, 46, 1], [194, 46, 0], [202, 46, 0], [210, 46, 0], [218, 47, 0], [226, 46, 1], [234, 47, 0], [169, 47, 1], [177, 51, 0], [185, 51, 0], [193, 51, 1], [201, 51, 0], [209, 51, 0], [217, 52, 1], [225, 51, 0], [233, 51, 0], [241, 52, 0], [249, 52, 1], [172, 56, 0], [180, 57, 0], [188, 56, 0], [196, 56, 0], [204, 57, 1], [212, 57, 0], [220, 56, 0], [228, 57, 0], [236, 56, 0], [244, 57, 1], [252, 56, 0], [260, 57, 0], [174, 61, 0], [182, 62, 1], [190, 61, 0], [198, 61, 0], [206, 62, 0], [214, 61, 0], [222, 62, 1], [230, 61, 0], [238, 61, 0], [254, 62, 0], [262, 61, 1], [176, 66, 1], [184, 67, 0], [192, 66, 0], [200, 67, 1], [208, 66, 0], [216, 67, 0], [224, 66, 0], [232, 67, 1], [240, 66, 0], [254, 66, 0], [180, 72, 0], [188, 71, 1], [196, 71, 0], [204, 72, 0], [212, 71, 0], [220, 72, 1], [230, 71, 0], [250, 71, 0], [184, 76, 0], [192, 77, 0], [200, 76, 1], [208, 77, 0], [216, 76, 0], [187, 81, 0], [195, 81, 0], [203, 82, 1], [211, 82, 0], [192, 86, 0], [200, 87, 0], [207, 86, 1], [194, 92, 0], [201, 92, 0], [208, 93, 1], [203, 98, 0], [210, 97, 0], [218, 98, 1],
            [25, 142, 1], [38, 140, 2], [50, 147, 1], [58, 152, 1]]
        const umapC3 = [[14, 151, 3], [22, 149, 4], [30, 150, 2], [40, 152, 3], [48, 150, 2],
            [6, 157, 3], [13, 155, 3], [20, 156, 4], [28, 157, 3], [35, 155, 5], [42, 156, 4], [50, 157, 2], [56, 155, 1],
            [2, 162, 2], [8, 161, 3], [15, 163, 5], [22, 161, 3], [29, 162, 4], [36, 163, 3], [43, 161, 4], [50, 163, 2], [57, 161, 2], [64, 163, 1],
            [1, 168, 2], [7, 167, 3], [14, 169, 4], [20, 167, 3], [27, 168, 4], [33, 169, 3], [40, 167, 5], [46, 169, 3], [53, 167, 2], [60, 169, 2], [67, 167, 1], [73, 169, 1],
            [3, 174, 2], [9, 173, 2], [16, 175, 3], [23, 173, 4], [30, 175, 3], [36, 174, 3], [43, 173, 3], [49, 175, 3], [56, 173, 2], [63, 175, 2], [69, 173, 1], [76, 175, 1], [82, 172, 1],
            [6, 180, 2], [13, 179, 2], [20, 181, 3], [26, 179, 3], [33, 180, 3], [39, 181, 3], [46, 179, 4], [52, 181, 3], [59, 179, 2], [65, 181, 2], [72, 179, 1], [79, 181, 1], [86, 178, 1],
            [9, 186, 1], [16, 185, 2], [23, 187, 2], [30, 185, 2], [36, 186, 3], [43, 187, 3], [49, 185, 3], [56, 187, 2], [63, 185, 2], [69, 187, 1], [76, 185, 1], [83, 187, 1], [89, 184, 1],
            [14, 192, 1], [21, 191, 1], [28, 193, 2], [34, 191, 2], [41, 192, 3], [48, 193, 3], [54, 191, 2], [61, 193, 2], [68, 191, 1], [75, 193, 1], [82, 191, 1], [88, 193, 1],
            [20, 198, 1], [27, 197, 1], [34, 199, 2], [41, 197, 2], [47, 198, 3], [54, 199, 2], [61, 197, 2], [68, 199, 1], [75, 197, 1], [82, 198, 1],
            [30, 204, 2], [37, 203, 2], [44, 205, 3], [51, 203, 3], [58, 205, 2], [64, 203, 2], [71, 205, 1], [78, 203, 1],
            [40, 209, 2], [47, 208, 3], [54, 210, 2], [61, 208, 2], [68, 210, 1], [50, 213, 2], [56, 213, 2],
            [18, 152, 3], [26, 153, 4], [34, 153, 3], [44, 154, 2], [3, 159, 3], [11, 159, 4], [18, 159, 3], [25, 159, 3], [32, 159, 3], [39, 160, 4], [47, 160, 3], [54, 159, 2], [61, 158, 1], [5, 165, 3], [12, 165, 3], [18, 165, 3], [25, 165, 4], [32, 165, 3], [38, 165, 3], [44, 165, 4], [51, 165, 2], [57, 165, 2], [64, 166, 1], [70, 165, 1], [4, 171, 2], [11, 171, 3], [18, 171, 3], [24, 171, 3], [31, 171, 4], [37, 171, 3], [44, 171, 3], [51, 171, 3], [58, 171, 2], [64, 171, 2], [71, 171, 1], [8, 177, 2], [15, 177, 3], [21, 177, 3], [28, 177, 3], [34, 177, 3], [41, 177, 4], [47, 177, 3], [54, 177, 3], [60, 177, 2], [67, 177, 2], [74, 177, 1], [81, 177, 1], [11, 183, 2], [18, 183, 2], [25, 183, 3], [31, 183, 3], [38, 183, 3], [45, 183, 3], [51, 183, 3], [58, 183, 2], [65, 183, 2], [71, 183, 1], [78, 183, 1], [85, 182, 1], [12, 189, 1], [19, 189, 2], [26, 189, 2], [33, 189, 3], [39, 189, 3], [46, 189, 3], [52, 189, 3], [59, 189, 2], [66, 189, 1], [73, 189, 1], [80, 189, 1], [86, 189, 1], [17, 195, 1], [24, 195, 2], [31, 195, 2], [38, 195, 3], [44, 195, 3], [51, 195, 2], [58, 195, 2], [65, 195, 1], [72, 195, 1], [79, 195, 1], [86, 196, 1], [25, 201, 1], [32, 201, 2], [39, 201, 2], [46, 201, 3], [53, 201, 3], [60, 201, 2], [67, 201, 2], [74, 201, 1], [35, 206, 2], [42, 207, 3], [50, 207, 3], [57, 207, 2], [64, 207, 2], [71, 207, 1], [45, 211, 3], [53, 212, 3], [62, 211, 2]]
        const umapC4 = [[34, 145, 3], [44, 143, 3], [22, 147, 3], [36, 152, 3], [28, 155, 4], [44, 149, 2], [31, 150, 3], [50, 145, 1], [40, 160, 3], [38, 170, 3], [44, 178, 3], [52, 158, 3], [57, 150, 2], [70, 146, 1],
            [64, 156, 1], [70, 152, 1], [76, 150, 1], [82, 148, 1], [68, 160, 1], [74, 158, 1], [80, 155, 2], [86, 152, 2], [92, 150, 1], [72, 165, 1], [78, 163, 1], [84, 160, 2], [90, 158, 2], [96, 155, 1], [102, 152, 1], [78, 170, 1], [85, 168, 1], [92, 166, 1], [98, 162, 2], [104, 158, 1], [110, 153, 1], [108, 146, 0], [114, 150, 0], [118, 146, 0],
            [112, 141, 1], [120, 140, 0], [124, 143, 0], [128, 136, 0], [131, 140, 0], [136, 132, 0], [138, 128, 0], [126, 130, 0], [143, 126, 0], [132, 126, 0],
            [62, 152, 1], [67, 149, 1], [73, 154, 1], [79, 151, 1], [85, 156, 2], [91, 154, 1], [97, 151, 1], [103, 156, 1], [70, 157, 1], [76, 161, 1], [82, 158, 2], [88, 163, 2], [94, 161, 1], [100, 158, 1], [106, 155, 1], [74, 168, 1], [81, 166, 1], [88, 170, 1], [95, 169, 2], [101, 165, 1], [107, 161, 1], [113, 157, 1], [112, 147, 1], [116, 143, 1], [122, 137, 0], [127, 142, 0], [134, 129, 0], [118, 152, 1], [124, 149, 0], [83, 173, 1], [90, 174, 1], [96, 173, 1], [104, 168, 1], [66, 170, 1], [60, 175, 1]]
        const umapC5 = [[232, 76, 0], [238, 74, 0], [244, 70, 1], [250, 68, 0], [226, 80, 1], [232, 82, 0], [238, 79, 1], [220, 84, 0], [226, 87, 1], [214, 88, 0], [220, 92, 0], [214, 96, 1], [140, 122, 0], [132, 122, 0], [148, 120, 0], [153, 135, 0], [160, 141, 0], [166, 143, 0], [163, 148, 1], [238, 84, 0], [232, 88, 1], [244, 76, 0], [250, 74, 1], [225, 92, 0], [240, 68, 0], [256, 70, 0]]
        // the few high scoring cells of panel e, [u, v, score]
        const umapHighScore = [[217, 22, 1], [205, 70, 0.9], [222.7, 82, 0.9], [213, 11, 0.65], [186, 43, 0.7], [229, 98, 0.6], [269, 63, 0.6], [22, 150, 0.75], [15, 150, 0.6], [14, 161, 0.7], [34, 172, 0.6], [27, 183, 0.7], [41, 201, 0.65]]
        const umapFlows = [
            [[204.8, 7.8], [197.7, 15.5], [192, 18.6]], [[221.7, 15.5], [214.7, 12.4], [209, 12.4]], [[279.6, 35.5], [275.4, 27.8], [269.8, 24.7]], [[257, 17], [250, 24.7], [245.8, 30.9]], [[272.6, 29.4], [265.5, 34], [259.9, 38.6]], [[216, 32.5], [210.4, 37.1], [210.4, 46.3]], [[204.8, 29.4], [197.7, 35.5], [196.3, 41.7]], [[193.5, 26.3], [189.3, 34], [187.9, 40.2]], [[159.6, 52.5], [162.4, 46.3], [166.7, 41.7]], [[186.4, 20.1], [182.2, 24.7], [179.4, 29.4]], [[233, 35.5], [228.8, 44.8], [227.4, 54]], [[221.7, 43.3], [217.5, 52.5], [216, 60.2]], [[203.4, 40.2], [197.7, 46.3], [196.3, 51]], [[207.6, 57.1], [203.4, 67.9], [203.4, 78.8]], [[230.2, 57.1], [227.4, 66.4], [227.4, 72.6]], [[242.9, 47.9], [238.7, 57.1], [238.7, 64.9]], [[257, 51], [254.2, 58.7], [254.2, 66.4]], [[272.6, 54], [269.8, 58.7], [267, 63.3]], [[203.4, 69.5], [197.7, 78.8], [196.3, 84.9]], [[193.5, 78.8], [186.4, 84.9], [182.2, 89.6]], [[197.7, 80.3], [193.5, 84.9], [192, 88]], [[228.8, 78.8], [223.1, 83.4], [221.7, 86.5]], [[216, 88], [209, 97.3], [206.2, 101.9]], [[213.3, 95.7], [210.4, 100.4], [209, 103.4]], [[227.4, 91.1], [221.7, 95.7], [218.9, 98.8]],
            [[5.6, 196], [0.8, 186.8], [1.4, 180.6]], [[0, 177.5], [-1.4, 168.3], [0, 160.5]], [[14.1, 196], [8.5, 180.6], [8.5, 162.1]], [[24, 205.3], [17, 193], [19.8, 179]], [[34, 203], [28, 196], [28.2, 189.9]], [[26.8, 197.6], [36.7, 186.8], [36.7, 177.5]], [[21.2, 174.4], [12.7, 171.3]], [[38.1, 162.1], [29.6, 159], [24, 162.1]], [[50.8, 205.3], [45.2, 199.1], [42.4, 194.5]], [[63.5, 205.3], [56.5, 197.6], [53.7, 189.9]], [[60.7, 189.9], [53.7, 183.7], [50.8, 179]], [[72, 189.9], [66.4, 182.1], [63.5, 177.5]], [[57.9, 208.4], [69.2, 205.3], [77.7, 196]], [[77.7, 202.2], [69.2, 206.8]], [[84.7, 186.8], [83.3, 189.9], [74.8, 192.9]], [[103.1, 171.3], [93.2, 177.5], [84.7, 179]], [[74.8, 174.4], [77.7, 165.2], [84.7, 159]], [[76.3, 143.6], [63.5, 151.3]], [[17, 148.2], [29.6, 140.5]],
            [[165.2, 143.6], [159.6, 132.8], [145.5, 128.1], [131.4, 131.2], [107.3, 140.5], [83.3, 155.9]], [[162.4, 146.6], [156.8, 131.2], [137, 137.4], [114.4, 145.1], [94.6, 159]], [[165.2, 134.3], [151.1, 126.6], [131.4, 128.1], [121.5, 129.7]], [[153.9, 118.9], [139.8, 122], [121.5, 128.1]], [[169.5, 112.7], [173.7, 122], [177.4, 132.8]], [[159.6, 112.7], [163.8, 103.4], [166.7, 98.8]], [[175, 100], [168, 108], [160, 110]], [[148, 114], [150, 106], [153, 103]], [[146, 130], [125, 134], [105, 138]], [[118, 146], [100, 152], [85, 162]]
        ]
        const scoreTicks = [0.4, 0.8]
        const streamClusters = ['Oligodendrocytes c1 KLK6', 'Oligodendrocytes c2 CNP', 'Oligodendrocytes c3 TMEM63A', 'Oligodendrocytes c4 KIF6', 'Oligodendrocytes c5 OLIG2']
        const mplColors = ['#1f77b4', '#ff7f0e', '#2ca02c', '#e8262a', '#9f6db5']

        // ---------- panel f: velocity genes sorted by fit time
        const velocityGenes = ['CSF1', 'RPL7', 'BCAS2', 'PRKCQ', 'TFAP2E', 'THNSL1', 'LRIG2', 'ARID4B', 'PRRC2C', 'ARL8A', 'CHD1L', 'RTCA', 'ARHGEF2', 'LINC00601', 'DOCK7', 'RPS7']
        const velocityGeneRow = [0, 5.8, 11.5, 17.2, 23, 28.8, 34.5, 40.2, 46, 51.8, 57.6, 63.2, 69, 74.8, 80.4, 86.2]
        const cellClusterBar = '21212121122112121221212121211221112122121221212212112121222112121212212112212121212212112122121212212122121221212122122121212112222122212122212242232223323223332323333233233333233333433333233333333331111'
        const velocityPeak = [1.8, 2.6, 3.8, 6.7, 9.6, 19.4, 27.6, 31.6, 34.5, 39.8, 45.5, 50.4, 52.9, 55.8, 57.8, 59, 60.3, 61.5, 62.7, 64.4, 65.6, 66.4, 67.2, 68, 69.3, 70, 70.9, 71.7, 72.5, 73.2, 73.8, 74, 74.3, 74.6, 74.8, 75, 75.1, 75.4, 75.6, 76.2, 77, 78.2, 78.7, 79.5, 80.5, 81.5, 82.3, 83.2, 84, 84.8, 85.4, 86, 86.6, 86.9, 87.2, 87.4, 87.8, 88.5, 88.9, 89.3, 89.7, 90.1, 90.5, 90.9, 91.1, 91.3, 92.1, 93, 93.6, 94.2, 95, 95.4, 95.6, 95.7, 95.7, 95.8, 95.8, 95.9, 96.1, 96.4, 96.9, 97.2, 97.5, 97.7, 97.9, 97.9, 97.9, 98, 97.9, 97.8]
        const velocityRows = ['2985555544444433333322212211111111', '2587665555554444433332221221211111', '1466655555554444443332322221111121', '1355765544443333333222122111111112', '1356676555444443332222112111111111', '1455555667655544443332221221111211', '1344444444556765543333222112211111', '2566665556555564444443332222322211', '1455544444445565443432232221211111', '1344444444444566443332221111112212', '1233333333333345664433222211111111', '1444444444444444556443322222112211', '2565555555554444455764444333333322', '1344444444444444444567543322221111', '1454455544445444544456654433322211', '1333333333333443333345664432221111', '2455555555455555555565765544333222', '1244444544444444443445675433211211', '1211112111110112110112111011110101', '1444444444443333344444567543222111', '1333333333333333333334467533221111', '1333332333333333333333456543211121', '1222222222222222333333345653321111', '1444444554444444444444566543322111', '1111122122222222112222234565422111', '1333333333233333333333334565432111', '1344454444444444443444455664333221', '1222222322222222222223333456532111', '1333333333344433333333334456643211', '1222222222222222222222233346642211', '1334444434444444444444444457654332', '1222222222222222222222222335663221', '1444444444344444666444444557754443', '1111111111110111111111111123553211', '1333333333333333333333334446654321', '1344344444555444444444444456665433', '1222222222222222222222233345643221', '1333333332333333333333334345654321', '1222222223222222222333333346543221', '1444444444444444444444445557655544', '1222222222222222222222222235653221', '1333334333333333333333333345664332', '1111111111111111111111111245631111', '0000001000000000000000001112452101', '1333333333333333333333333344665331', '1444444544444444444444444445666544', '1223322222232222222222223334566533', '1222222222222222222222222233566443', '1444344444444444444444444445676544', '1121111111111121111111111123456321', '1333343333333333334333333334466432', '1222222222222222222222222223456322', '1344444444444444444444444444566543', '1111112111111111111111111112456311', '1333333333333333333333333334566432', '1444444444444444444444444444567544', '1122222222222222222222222223456322', '0111110111111110001111111112356211', '2333355333333333333333333334456432', '1222222222222222222222222222346421', '1333333333333333333333333333456542', '1222222222222222222222222222346531', '1112222111111111112211111122356322', '1333333333333333333333333333456433', '1444444444434444444444444444557544', '1222222222222222222222222222346322', '1111111111111111111111111222345312', '1333333333333444333333333333446633', '0200000000010000000000000001234511', '1444444444444444444444444444556654', '1222222222222322222222222223335633', '1334433333333333333333333333446543', '1111111111111111111111111112225622', '1222222222222222222222222333356333', '1455555555555555555554555555576554', '1111122111111111111111111111224622', '1222222222222221112222222222335633', '0111111111111011100111111111124512', '1333333333333333333333333333445643', '1222222222222222222222222222334622', '1122221111111111111211221111123512', '0111111111110000000111111111224622', '1333333333333333333333333333334643', '1221111111111111111111122211112463', '0100011111111000011111111000001261', '1222222222222222222222222222111364', '1343333333333344333333333333223246', '1111111111111111111111110000000271', '1444433333333333333333333333222246', '1122222222221111111111111111111361']
        const velocityStreaks = '652763576247653862756472853762647362583150426318250364172503614825036142703516240361527036142503614270351624036152703614250314025130146'

        function drawChart() {
            const width = 1466
            const height = 1236
            const svg = d3.select('#chart')
                .append('svg')
                .attr('width', width)
                .attr('height', height)
                .style('display', 'block')
                .style('background', '#fff')
                .style('font-family', '"Liberation Sans", Arial, sans-serif')

            // horizontal smear for the two heatmaps, rows stay sharp
            const defs = svg.append('defs')
            defs.append('filter')
                .attr('id', 'rowSmear')
                .attr('filterUnits', 'userSpaceOnUse')
                .attr('x', 900).attr('y', 0).attr('width', 566).attr('height', 1236)
                .append('feGaussianBlur')
                .attr('stdDeviation', '3.5 0')
            defs.append('clipPath').attr('id', 'clipC').append('rect').attr('x', 943).attr('y', 0).attr('width', 390).attr('height', 1236)
            defs.append('clipPath').attr('id', 'clipF').append('rect').attr('x', 928).attr('y', 965).attr('width', 407).attr('height', 271)

            // panel letters
            const letters = [['a', 10, 30], ['b', 582, 34], ['c', 862, 32], ['d', 9, 522], ['e', 12, 986], ['f', 884, 988]]
            svg.selectAll('text.letter')
                .data(letters)
                .join('text')
                .attr('class', 'letter')
                .attr('x', d => d[1])
                .attr('y', d => d[2])
                .attr('font-size', 28)
                .attr('font-weight', 'bold')
                .attr('fill', '#000')
                .text(d => d[0])

            drawPanelA(svg)
            drawPanelB(svg)
            drawPanelC(svg)
            drawPanelD(svg)
            drawPanelE(svg)
            drawPanelF(svg)
        }

        function styleAxis(g, size, color) {
            g.selectAll('.domain').attr('stroke', '#666').attr('stroke-width', 1.2)
            g.selectAll('.tick line').attr('stroke', '#666')
            g.selectAll('.tick text').attr('font-size', size).attr('fill', color).attr('font-family', '"Liberation Sans", Arial, sans-serif')
        }

        function drawPanelA(svg) {
            const x = d3.scaleLinear().domain([-7.52, 10.42]).range([51, 503])
            const y = d3.scaleLinear().domain([-8.2, 1.386]).range([470, 18])
            const groups = [cellsC1, cellsC2, cellsC3, cellsC4, cellsC5]

            const gx = svg.append('g').attr('transform', 'translate(0,470)')
                .call(d3.axisBottom(x).tickValues([-5, 0, 5, 10]).tickSize(2.5).tickPadding(3).tickFormat(d3.format('d')))
            styleAxis(gx, 9.5, '#666')
            const gy = svg.append('g').attr('transform', 'translate(51,0)')
                .call(d3.axisLeft(y).tickValues([-8, -6, -4, -2, 0]).tickSize(2.5).tickPadding(3).tickFormat(d3.format('d')))
            styleAxis(gy, 9.5, '#666')

            svg.append('text').attr('x', 277).attr('y', 494).attr('text-anchor', 'middle').attr('font-size', 10.5).text('Component 1')
            svg.append('text').attr('transform', 'translate(32,245) rotate(-90)').attr('text-anchor', 'middle').attr('font-size', 10.5).text('Component 2')

            groups.forEach((cells, i) => {
                svg.append('g').selectAll('circle')
                    .data(cells)
                    .join('circle')
                    .attr('cx', d => x(d[0]))
                    .attr('cy', d => y(d[1]))
                    .attr('r', 1.5)
                    .attr('fill', clusterColors[i])
            })

            const line = d3.line().x(d => x(d[0])).y(d => y(d[1]))
            svg.append('path').attr('d', line.curve(d3.curveCatmullRom)(trajectoryMain)).attr('fill', 'none').attr('stroke', '#000').attr('stroke-width', 1.7)
            trajectoryBranches.forEach(b => {
                svg.append('path').attr('d', line.curve(d3.curveLinear)(b)).attr('fill', 'none').attr('stroke', '#000').attr('stroke-width', 1.7)
            })

            // inset coloured by pseudotime
            svg.append('rect').attr('x', 143.5).attr('y', 121.7).attr('width', 194).attr('height', 187.6)
                .attr('fill', '#fff').attr('stroke', '#777').attr('stroke-width', 1.3)
            const ix = d3.scaleLinear().domain([-5.6, 8.71]).range([167.7, 325])
            const iy = d3.scaleLinear().domain([-2.16, 0.6]).range([195, 139.3])
            const tArc = d3.scaleLinear().domain(pseudoArcX).range(pseudoArcT).clamp(true)
            const tTail = d3.scaleLinear().domain(pseudoTailY).range(pseudoTailT).clamp(true)
            const pseudoColor = d3.scaleSequential(d3.interpolateViridis).domain([0, 10])
            const allCells = groups.flat()
            svg.append('g').selectAll('circle')
                .data(allCells)
                .join('circle')
                .attr('cx', d => ix(d[0]))
                .attr('cy', d => iy(d[1]))
                .attr('r', d => d[1] < -1 ? 0.6 : 0.8)
                .attr('fill', d => pseudoColor(d[1] < -0.9 ? tTail(d[1]) : tArc(d[0])))
            const iline = d3.line().x(d => ix(d[0])).y(d => iy(d[1]))
            svg.append('path').attr('d', iline.curve(d3.curveCatmullRom)(trajectoryMain)).attr('fill', 'none').attr('stroke', '#444').attr('stroke-width', 0.8)
            trajectoryBranches.forEach(b => {
                svg.append('path').attr('d', iline.curve(d3.curveLinear)(b)).attr('fill', 'none').attr('stroke', '#444').attr('stroke-width', 0.8)
            })

            // pseudotime bar
            const barY = d3.scaleLinear().domain([0, 10]).range([294, 164])
            svg.append('g').selectAll('rect')
                .data(d3.range(0, 10, 0.1))
                .join('rect')
                .attr('x', 343.3)
                .attr('y', d => barY(d + 0.1))
                .attr('width', 17.7)
                .attr('height', d => barY(d) - barY(d + 0.1) + 0.5)
                .attr('fill', d => pseudoColor(d))
            const pt = svg.append('g').selectAll('g').data(pseudoTicks).join('g')
            pt.append('line').attr('x1', 343.3).attr('x2', 347).attr('y1', d => barY(d)).attr('y2', d => barY(d)).attr('stroke', '#fff').attr('stroke-opacity', .7)
            pt.append('line').attr('x1', 357.5).attr('x2', 361).attr('y1', d => barY(d)).attr('y2', d => barY(d)).attr('stroke', '#fff').attr('stroke-opacity', .7)
            pt.append('text').attr('x', 366.5).attr('y', d => barY(d) + 3.6).attr('font-size', 9.8).attr('fill', '#222').text(d => d3.format('.1f')(d))
            svg.append('text').attr('x', 343).attr('y', 157).attr('font-size', 11.4).text('Pseudotime')

            // cluster legend
            const legendY = [346, 369, 395, 423, 449]
            svg.append('text').attr('x', 253).attr('y', 331).attr('font-size', 16).text('Cluster')
            const lg = svg.append('g').selectAll('g').data(clusterNames).join('g')
            lg.append('circle').attr('cx', 265.6).attr('cy', (d, i) => legendY[i]).attr('r', 7.5).attr('fill', (d, i) => clusterColors[i])
            lg.append('text').attr('x', 286.5).attr('y', (d, i) => legendY[i] + 4.6).attr('font-size', 13).attr('fill', '#111').text(d => d)
        }

        function drawPanelB(svg) {
            const y = d3.scaleLinear().domain([0, 1071]).range([20, 377])
            const x = d3.scaleLinear().domain([0, 780]).range([580, 840])
            const keys = ['c5', 'c4', 'c3', 'c2', 'c1']
            const colorOf = { c1: clusterColors[0], c2: clusterColors[1], c3: clusterColors[2], c4: clusterColors[3], c5: clusterColors[4] }
            const table = streamLevels.map((lev, i) => ({ lev, left: streamLeft[i], c5: streamC5[i], c4: streamC4[i], c3: streamC3[i], c2: streamC2[i], c1: streamC1[i] }))
            const layers = d3.stack().keys(keys)(table)
            const area = d3.area()
                .y(d => y(d.data.lev))
                .x0(d => x(d.data.left + d[0]))
                .x1(d => x(d.data.left + d[1]))
                .curve(d3.curveMonotoneY)
            svg.append('g').selectAll('path')
                .data(layers)
                .join('path')
                .attr('d', area)
                .attr('fill', d => colorOf[d.key])

            svg.append('text').attr('x', 711).attr('y', 417).attr('text-anchor', 'middle').attr('font-size', 15).attr('font-weight', 'bold').attr('letter-spacing', 0.85).text('Density stream')
            svg.append('text').attr('x', 711).attr('y', 445).attr('text-anchor', 'middle').attr('font-size', 15).attr('font-weight', 'bold').attr('letter-spacing', 0.85).text('of oligodendrocytes')
        }

        function drawPanelC(svg) {
            const color = d3.scaleLinear().domain(geneColorStops).range(geneColors)
            // genes are grouped in five blocks with a small gap between them
            const rowEdge = d3.scaleLinear()
                .domain([0, 1, 1.0001, 12, 12.0001, 19, 19.0001, 22, 22.0001, 30])
                .range([9.3, 38.3, 45.7, 363.3, 370.7, 571.7, 580, 666.7, 674.7, 904.3])
            const rowTop = i => rowEdge(i + 0.0002)
            const rowBottom = i => rowEdge(i + 1 - 0.0002)
            const cols = geneValues[0].length
            const x = d3.scaleBand().domain(d3.range(cols)).range([943, 1333])

            const rows = svg.append('g').attr('clip-path', 'url(#clipC)').append('g').attr('filter', 'url(#rowSmear)')
                .selectAll('g').data(geneValues).join('g')
            rows.selectAll('rect')
                .data((d, i) => d.map((v, j) => ({ v, j, i })))
                .join('rect')
                .attr('x', d => d.j === 0 ? x(d.j) - 12 : x(d.j))
                .attr('y', d => rowTop(d.i))
                .attr('width', d => x.bandwidth() + 0.4 + (d.j === 0 || d.j === cols - 1 ? 12 : 0))
                .attr('height', d => rowBottom(d.i) - rowTop(d.i))
                .attr('fill', d => color(d.v))

            svg.append('g').selectAll('rect')
                .data(geneCluster)
                .join('rect')
                .attr('x', 925)
                .attr('y', (d, i) => rowTop(i))
                .attr('width', 12.5)
                .attr('height', (d, i) => rowBottom(i) - rowTop(i) + 0.2)
                .attr('fill', d => heatClusterColors[d])

            svg.append('g').selectAll('text')
                .data(geneNames)
                .join('text')
                .attr('x', 1336.5)
                .attr('y', (d, i) => (rowTop(i) + rowBottom(i)) / 2 + 4)
                .attr('font-size', 11.2)
                .attr('fill', '#111')
                .text(d => d)

            // dendrogram
            const h = d3.scaleLinear().domain([0, 31]).range([925, 894.3])
            svg.append('g').selectAll('line')
                .data(dendroStems)
                .join('line')
                .attr('x1', d => h(d[0])).attr('x2', d => h(d[0]))
                .attr('y1', d => rowEdge(d[1])).attr('y2', d => rowEdge(d[2]))
                .attr('stroke', '#111').attr('stroke-width', 1.3)
            svg.append('g').selectAll('line')
                .data(dendroArms)
                .join('line')
                .attr('x1', d => h(d[0])).attr('x2', d => h(d[1]))
                .attr('y1', d => rowEdge(d[2])).attr('y2', d => rowEdge(d[2]))
                .attr('stroke', '#111').attr('stroke-width', 1.3)

            // value bar, stepped like the source palette
            const barY = d3.scaleLinear().domain([-3, 3]).range([291, 14])
            const steps = d3.range(-3.09, 3.09, 0.105)
            svg.append('g').selectAll('rect')
                .data(steps)
                .join('rect')
                .attr('x', 1409.5)
                .attr('y', d => barY(d + 0.105))
                .attr('width', 19)
                .attr('height', d => barY(d) - barY(d + 0.105) + 0.4)
                .attr('fill', d => color(d + 0.05))
            svg.append('g').selectAll('text')
                .data(geneTicks)
                .join('text')
                .attr('x', 1435)
                .attr('y', d => barY(d) + 4)
                .attr('font-size', 11)
                .attr('fill', '#111')
                .text(d => d3.format('d')(d))

            // cluster key
            const keyIds = [1, 2, 3, 4, 5]
            svg.append('text').attr('x', 1410.5).attr('y', 326).attr('font-size', 11).attr('font-weight', 'bold').text('Cluster')
            svg.append('g').selectAll('rect')
                .data(keyIds)
                .join('rect')
                .attr('x', 1411)
                .attr('y', (d, i) => 330 + i * 16.4)
                .attr('width', 16.5)
                .attr('height', 16.4)
                .attr('fill', d => heatClusterColors[d])
            svg.append('g').selectAll('text')
                .data(keyIds)
                .join('text')
                .attr('x', 1431)
                .attr('y', (d, i) => 342.5 + i * 16.4)
                .attr('font-size', 11)
                .attr('fill', '#111')
                .text(d => d)
        }

        function drawPanelD(svg) {
            const color = d3.scaleLinear().domain(exprStops).range(exprColors)
            exprGenes.forEach((gene, k) => {
                const col = k % 4
                const row = Math.floor(k / 4)
                const plotShift = col >= 2 ? 1.5 : 0
                const g = svg.append('g').attr('transform', `translate(${col * 182.5},${row * 204})`)
                const x = d3.scaleLinear().domain([-7.5, 10.4]).range([52.3, 182.3])
                const y = d3.scaleLinear().domain([-8.17, 1.4]).range([691.3 + plotShift, 560 + plotShift])

                const gx = g.append('g').attr('transform', 'translate(0,691.3)')
                    .call(d3.axisBottom(x).tickValues([-5, 0, 5, 10]).tickSize(2.5).tickPadding(5).tickFormat(d3.format('d')))
                styleAxis(gx, 11.5, '#555')
                const gy = g.append('g').attr('transform', 'translate(52.3,0)')
                    .call(d3.axisLeft(y).tickValues([-8, -6, -4, -2, 0]).tickSize(2.5).tickPadding(2.5).tickFormat(d3.format('d')))
                styleAxis(gy, 11.5, '#555')

                const expr = exprStrings[k]
                const order = d3.range(dotCells.length).sort((a, b) => +expr[a] - +expr[b])
                g.append('g').selectAll('circle')
                    .data(order)
                    .join('circle')
                    .attr('cx', i => x(dotCells[i][0]))
                    .attr('cy', i => y(dotCells[i][1]))
                    .attr('r', 4.2)
                    .attr('fill', i => color(-1 + (+expr[i]) * 0.3))
                    .attr('fill-opacity', 0.9)

                const line = d3.line().x(d => x(d[0])).y(d => y(d[1]))
                g.append('path').attr('d', line.curve(d3.curveCatmullRom)(trajectoryMain)).attr('fill', 'none').attr('stroke', '#000').attr('stroke-width', 1.8)
                trajectoryBranches.forEach(b => {
                    g.append('path').attr('d', line.curve(d3.curveLinear)(b)).attr('fill', 'none').attr('stroke', '#000').attr('stroke-width', 1.5)
                })

                g.append('text').attr('x', 117).attr('y', 553 + plotShift).attr('text-anchor', 'middle').attr('font-size', 11.5).attr('fill', '#222').text(gene)
                g.append('text').attr('x', 117).attr('y', 724).attr('text-anchor', 'middle').attr('font-size', 14.5).text('Component 1')
                g.append('text').attr('transform', 'translate(24,625) rotate(-90)').attr('text-anchor', 'middle').attr('font-size', 14.5).text('Component 2')
            })

            // shared colour bar
            const barY = d3.scaleLinear().domain([-1, 1.786]).range([815, 659])
            svg.append('g').selectAll('rect')
                .data(d3.range(-1, 1.786, 0.02))
                .join('rect')
                .attr('x', 765)
                .attr('y', d => barY(d + 0.02))
                .attr('width', 22)
                .attr('height', d => barY(d) - barY(d + 0.02) + 0.5)
                .attr('fill', d => color(d))
            svg.append('g').selectAll('text')
                .data(exprTicks)
                .join('text')
                .attr('x', 793)
                .attr('y', d => barY(d) + 3.5)
                .attr('font-size', 10)
                .attr('fill', '#222')
                .text(d => d3.format('d')(d))
            svg.append('text').attr('x', 765).attr('y', 652).attr('font-size', 13.5).text('log10(value + 0.1)')
        }

        function drawPanelE(svg) {
            const x = d3.scaleLinear().domain([0, 295]).range([33, 328])
            const y = d3.scaleLinear().domain([0, 213]).range([1007, 1220])
            const color = s => d3.interpolateRdBu(1 - (s * 0.1 + 0.03))
            const cells = [umapC1, umapC2, umapC5, umapC4, umapC3].flat()
            svg.append('g').selectAll('circle')
                .data(cells)
                .join('circle')
                .attr('cx', d => x(d[0]))
                .attr('cy', d => y(d[1]))
                .attr('r', 2.3)
                .attr('fill', d => color(d[2]))
            svg.append('g').selectAll('circle')
                .data(umapHighScore)
                .join('circle')
                .attr('cx', d => x(d[0]))
                .attr('cy', d => y(d[1]))
                .attr('r', 2.3)
                .attr('fill', d => d3.interpolateRdBu(1 - d[2]))

            // score bar
            const barY = d3.scaleLinear().domain([0, 1]).range([1230.7, 1162.7])
            svg.append('g').selectAll('rect')
                .data(d3.range(0, 1.03, 0.01))
                .join('rect')
                .attr('x', 335)
                .attr('y', d => barY(d + 0.01))
                .attr('width', 7.3)
                .attr('height', 1)
                .attr('fill', d => d3.interpolateRdBu(1 - Math.min(d, 1)))
            svg.append('rect').attr('x', 335).attr('y', 1160.7).attr('width', 7.3).attr('height', 70).attr('fill', 'none').attr('stroke', '#222').attr('stroke-width', 0.6)
            const st = svg.append('g').selectAll('g').data(scoreTicks).join('g').style('font-family', '"DejaVu Sans", sans-serif')
            st.append('line').attr('x1', 342.3).attr('x2', 345).attr('y1', d => barY(d)).attr('y2', d => barY(d)).attr('stroke', '#222')
            st.append('text').attr('x', 349.5).attr('y', d => barY(d) + 4.2).attr('font-size', 12).attr('fill', '#222').text(d => d3.format('.1f')(d))
        }

        function drawPanelF(svg) {
            const x = d3.scaleLinear().domain([0, 295]).range([505, 853])
            const y = d3.scaleLinear().domain([0, 213]).range([1005, 1235])
            const order = [umapC1, umapC2, umapC3, umapC4, umapC5]
            order.forEach((cells, i) => {
                svg.append('g').selectAll('circle')
                    .data(cells)
                    .join('circle')
                    .attr('cx', d => x(d[0]))
                    .attr('cy', d => y(d[1]))
                    .attr('r', 3.3)
                    .attr('fill', mplColors[i])
                    .attr('fill-opacity', 0.42)
            })

            // velocity stream lines
            const line = d3.line().x(d => x(d[0])).y(d => y(d[1])).curve(d3.curveCatmullRom)
            svg.append('g').selectAll('path')
                .data(umapFlows)
                .join('path')
                .attr('d', line)
                .attr('fill', 'none')
                .attr('stroke', '#111')
                .attr('stroke-width', d => d.length > 3 ? 1.1 : 0.7)
            svg.append('g').selectAll('path')
                .data(umapFlows)
                .join('path')
                .attr('d', 'M3,0L-4,-3.2L-4,3.2Z')
                .attr('fill', '#000')
                .attr('transform', d => {
                    const a = d[d.length - 2]
                    const b = d[d.length - 1]
                    const ang = Math.atan2(y(b[1]) - y(a[1]), x(b[0]) - x(a[0])) * 180 / Math.PI
                    return `translate(${x(b[0])},${y(b[1])}) rotate(${ang})`
                })

            // shared legend
            const legendY = [1005.3, 1028.3, 1051.5, 1074, 1097]
            const lg = svg.append('g').selectAll('g').data(streamClusters).join('g').style('font-family', '"DejaVu Sans", sans-serif')
            lg.append('circle').attr('cx', 402.7).attr('cy', (d, i) => legendY[i]).attr('r', 4.6).attr('fill', (d, i) => mplColors[i])
            lg.append('text').attr('x', 412).attr('y', (d, i) => legendY[i] + 5.4).attr('font-size', 15.1).attr('fill', '#222').text(d => d)

            // cluster strip above the heatmap
            const heatLeft = 928
            const heatRight = 1335
            const barX = d3.scaleBand().domain(d3.range(cellClusterBar.length)).range([heatLeft, heatRight])
            svg.append('g').selectAll('rect')
                .data(cellClusterBar.split(''))
                .join('rect')
                .attr('x', (d, i) => barX(i))
                .attr('y', 952)
                .attr('width', barX.bandwidth() + 0.3)
                .attr('height', 8.7)
                .attr('fill', d => mplColors[+d - 1])

            // heatmap
            const colCount = velocityRows[0].length
            const colX = d3.scaleBand().domain(d3.range(colCount)).range([heatLeft, heatRight])
            const rowY = d3.scaleBand().domain(d3.range(velocityRows.length)).range([965, 1236])
            const heatColor = d => d3.interpolateViridis(d / 9)
            const peakX = d3.scaleLinear().domain([0, 100]).range([heatLeft, heatRight])
            svg.append('rect').attr('x', heatLeft).attr('y', 965).attr('width', heatRight - heatLeft).attr('height', 271).attr('fill', '#3b2f7f')
            const clipped = svg.append('g').attr('clip-path', 'url(#clipF)')
            const smeared = clipped.append('g').attr('filter', 'url(#rowSmear)')
            const rowsG = smeared.append('g').selectAll('g').data(velocityRows).join('g')
            rowsG.selectAll('rect')
                .data((d, i) => d.split('').map((c, j) => ({ c: +c, j, i })))
                .join('rect')
                .attr('x', d => d.j === 0 ? colX(d.j) - 12 : colX(d.j))
                .attr('y', d => rowY(d.i))
                .attr('width', d => colX.bandwidth() + 0.3 + (d.j === 0 || d.j === colCount - 1 ? 12 : 0))
                .attr('height', rowY.bandwidth() + 0.3)
                .attr('fill', d => heatColor(d.c))
            smeared.append('g').selectAll('rect')
                .data(velocityPeak)
                .join('rect')
                .attr('x', d => peakX(d) - 7)
                .attr('y', (d, i) => rowY(i))
                .attr('width', 14)
                .attr('height', rowY.bandwidth() + 0.3)
                .attr('fill', '#6ece58')
                .attr('fill-opacity', 0.5)

            // thin row to row streaks on top of the coarse cells, they fade out right of the ridge
            const streakY = d3.scaleBand().domain(d3.range(velocityStreaks.length)).range([965, 1236])
            clipped.append('g').selectAll('rect')
                .data(velocityStreaks.split(''))
                .join('rect')
                .attr('x', heatLeft + 6)
                .attr('y', (d, i) => streakY(i))
                .attr('width', heatRight - heatLeft - 6)
                .attr('height', streakY.bandwidth())
                .attr('fill', d => heatColor(+d))
                .attr('fill-opacity', 0.42)

            // the bright sorted ridge, joined from row to row, fainter where it jumps
            clipped.append('g').selectAll('rect')
                .data(velocityPeak)
                .join('rect')
                .attr('x', (d, i) => Math.min(peakX(d), peakX(i ? velocityPeak[i - 1] : d)) - 1.4)
                .attr('y', (d, i) => rowY(i))
                .attr('width', (d, i) => Math.abs(peakX(d) - peakX(i ? velocityPeak[i - 1] : d)) + 2.8)
                .attr('height', rowY.bandwidth() + 0.3)
                .attr('fill', '#f1e51d')
                .attr('fill-opacity', (d, i) => i && Math.abs(d - velocityPeak[i - 1]) > 2 ? 0.6 : 0.9)

            // gene ticks
            const gf = svg.append('g').selectAll('g').data(velocityGenes).join('g').style('font-family', '"DejaVu Sans", sans-serif')
            const tickY = i => rowY(0) + (velocityGeneRow[i] + 0.2) * rowY.step()
            gf.append('line').attr('x1', heatRight).attr('x2', heatRight + 3.5).attr('y1', (d, i) => tickY(i)).attr('y2', (d, i) => tickY(i)).attr('stroke', '#222').attr('stroke-width', 0.8)
            gf.append('text').attr('x', 1340.5).attr('y', (d, i) => tickY(i) + 4.5).attr('font-size', 12.1).attr('fill', '#222').text(d => d)
        }

        drawChart()
    </script>
</body>

</html>
